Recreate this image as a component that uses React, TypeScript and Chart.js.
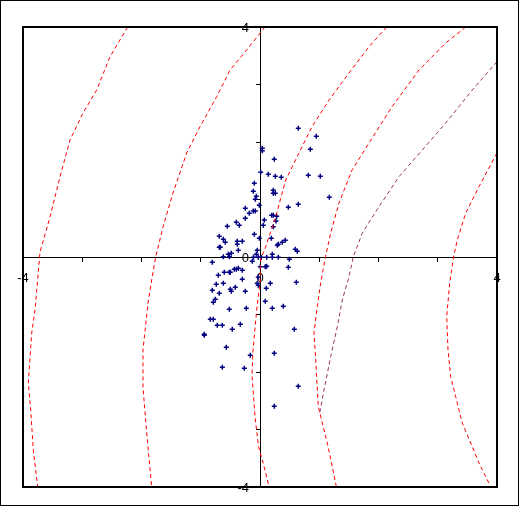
import React, { useEffect, useRef } from "react";
import { Chart, registerables } from "chart.js";

Chart.register(...registerables);

// Scatter sample (x, y)
const sampleX = [
  0.039, 0.039, 0.012, 0.14, -0.096, -0.113, -0.062, -0.079, -0.012, -0.248,
  -0.113, -0.079, -0.181, -0.248, 0.073, 0.646, 0.95, 0.849, 0.241, 0.258,
  0.359, 0.815, 1.018, 0.224, 0.224, 0.258, 1.17, 0.646, 0.478, 0.197,
  0.224, 0.282, -0.4, -0.349, 0.056, -0.552, -0.096, -0.012, -0.687, -0.619,
  -0.586, -0.383, -0.299, -0.383, -0.687, -0.67, -0.366, -0.535, -0.518, -0.046,
  -0.062, -0.029, 0.022, -0.619, -0.13, -0.805, 0.005, 0.089, -0.434, -0.4,
  -0.366, -0.603, -0.518, -0.501, -0.299, -0.704, -0.029, -0.299, -0.046, -0.029,
  -0.619, -0.738, -0.417, -0.501, -0.484, -0.805, 0.106, -0.687, -0.248, -0.754,
  -0.788, 0.089, -0.518, -0.231, 0.27, 0.224, 0.191, 0.427, 0.376, 0.309,
  0.292, 0.596, 0.63, 0.113, 0.208, 0.208, 0.309, 0.495, 0.113, 0.478,
  0.613, 0.174, 0.393, 0.208, -0.839, -0.788, -0.721, -0.636, -0.332, -0.468,
  -0.94, -0.94, -0.569, -0.164, -0.636, -0.265, 0.579, 0.241, 0.646, 0.241,
  -0.484, -0.11,
];
const sampleY = [
  1.89, 1.849, 1.473, 1.438, 1.282, 1.143, 1.056, 1.003, 0.899, 0.847,
  0.8, 0.8, 0.76, 0.673, 0.643, 2.238, 2.099, 1.873, 1.699, 1.403,
  1.386, 1.421, 1.403, 1.16, 1.108, 1.108, 1.038, 0.917, 0.864, 0.725,
  0.725, 0.708, 0.603, 0.551, 0.551, 0.534, 0.395, 0.325, 0.36, 0.308,
  0.256, 0.273, 0.273, 0.221, 0.169, 0.169, 0.117, 0.047, 0.005, 0.117,
  0.047, -0.005, -0.005, 0.005, -0.075, -0.092, -0.169, -0.169, -0.214, -0.214,
  -0.197, -0.266, -0.266, -0.266, -0.231, -0.318, -0.353, -0.388, -0.457, -0.492,
  -0.457, -0.475, -0.527, -0.562, -0.597, -0.579, -0.544, -0.631, -0.597, -0.736,
  -0.788, -0.77, -0.91, -0.892, 0.626, 0.527, 0.325, 0.29, 0.256, 0.221,
  0.203, 0.134, 0.099, -0.005, 0.047, -0.005, -0.005, -0.04, -0.162, -0.179,
  -0.44, -0.457, -0.857, -0.892, -1.083, -1.083, -1.188, -1.188, -1.17, -1.257,
  -1.344, -1.362, -1.57, -1.71, -1.918, -1.936, -1.257, -1.675, -2.249, -2.597,
  0.064, -0.005,
];

// Contour curves
const curveAX = [-2.233, -2.532, -2.756, -2.987, -3.207, -3.376, -3.544, -3.713, -3.797, -3.853, -3.911, -3.87, -3.826, -3.752];
const curveAY = [4.0, 3.483, 2.904, 2.504, 2.035, 1.391, 0.696, 0.087, -0.922, -1.322, -2.191, -2.661, -3.357, -4.0];

const curveBX = [0.084, -0.224, -0.506, -0.731, -1.013, -1.237, -1.468, -1.637, -1.76, -1.828, -1.89, -1.975, -1.975, -1.912, -1.828];
const curveBY = [4.0, 3.6, 3.252, 2.788, 2.266, 1.809, 1.113, 0.522, 0.005, -0.4, -0.8, -1.617, -2.261, -3.061, -4.0];

const curveCX = [2.138, 1.84, 1.502, 1.165, 0.878, 0.658, 0.434, 0.265, 0.096, 0.012, 0.0, -0.056, -0.118, -0.135, -0.084, -0.025, 0.039, 0.096, 0.152];
const curveCY = [4.0, 3.657, 3.2, 2.73, 2.266, 1.809, 1.339, 0.701, 0.179, -0.035, -0.452, -0.922, -1.617, -2.052, -2.777, -3.299, -3.53, -3.757, -3.995];

const curveDX = [3.472, 3.134, 2.684, 2.228, 1.84, 1.553, 1.333, 1.193, 1.105, 1.024, 0.967, 0.911, 0.94, 0.984, 1.052, 1.136, 1.22, 1.288];
const curveDY = [4.0, 3.722, 3.252, 2.614, 1.983, 1.513, 0.939, 0.417, 0.005, -0.452, -0.864, -1.322, -1.791, -2.603, -2.887, -3.235, -3.647, -3.995];

const curveEX = [4.0, 3.583, 3.134, 2.739, 2.346, 2.008, 1.727, 1.575, 1.502, 1.389, 1.305, 1.193, 1.08, 1.008];
const curveEY = [3.397, 2.904, 2.33, 1.861, 1.397, 0.875, 0.417, 0.005, -0.343, -0.748, -1.212, -1.734, -2.313, -2.713];

const curveFX = [4.0, 3.696, 3.472, 3.33, 3.266, 3.202, 3.151, 3.173, 3.219, 3.303, 3.414, 3.556, 3.696, 3.865];
const curveFY = [1.809, 1.223, 0.765, 0.296, 0.0, -0.452, -1.038, -1.617, -2.082, -2.43, -2.887, -3.235, -3.583, -3.936];

const labelledTicks = [-4, 0, 4];

const toPoints = (xs: number[], ys: number[]) => xs.map((x, i) => ({ x, y: ys[i] }));

const LABEL_FONT = "13px 'Liberation Sans', Arial, sans-serif";

const framePlugin = {
  id: "frame",
  afterDraw(chart: any) {
    const { ctx, chartArea, width, height } = chart;
    ctx.save();
    ctx.strokeStyle = "#000";
    ctx.lineWidth = 2;
    ctx.strokeRect(chartArea.left, chartArea.top, chartArea.right - chartArea.left, chartArea.bottom - chartArea.top);
    ctx.lineWidth = 1;
    ctx.strokeRect(0.5, 0.5, width - 1, height - 1);
    // y-axis tick labels, placed with the library's scales, left of the centred axis
    const xs = chart.scales.x;
    const ys = chart.scales.y;
    const axisX = xs.getPixelForValue(0);
    ctx.fillStyle = "#000";
    ctx.font = LABEL_FONT;
    ctx.textAlign = "right";
    ctx.textBaseline = "middle";
    labelledTicks.forEach((v) => {
      ctx.fillText(String(v), axisX - 11, ys.getPixelForValue(v) + 1);
    });
    ctx.restore();
  },
};

export default function App() {
  const ref = useRef<HTMLCanvasElement | null>(null);
  useEffect(() => {
    if (!ref.current) return;
    const curve = (xs: number[], ys: number[], color: string) => ({
      type: "scatter" as const,
      data: toPoints(xs, ys),
      showLine: true,
      borderColor: color,
      backgroundColor: color,
      borderWidth: 1,
      borderDash: [4, 3],
      pointRadius: 0,
      tension: 0,
    });
    const font = { family: "'Liberation Sans', Arial, sans-serif", size: 13 };
    const chart = new Chart(ref.current, {
      type: "scatter",
      data: {
        datasets: [
          curve(curveAX, curveAY, "#ff0000"),
          curve(curveBX, curveBY, "#ff0000"),
          curve(curveCX, curveCY, "#ff0000"),
          curve(curveDX, curveDY, "#ff0000"),
          curve(curveEX, curveEY, "#993366"),
          curve(curveFX, curveFY, "#ff0000"),
          {
            type: "scatter",
            data: toPoints(sampleX, sampleY),
            pointStyle: "cross",
            pointRadius: 2.5,
            borderColor: "#000080",
            backgroundColor: "#000080",
            borderWidth: 1.5,
          },
        ],
      },
      options: {
        responsive: false,
        animation: false,
        layout: { padding: { left: 23, top: 27, right: 22, bottom: 19 } },
        plugins: { legend: { display: false }, tooltip: { enabled: false }, title: { display: false } },
        scales: {
          x: {
            type: "linear",
            min: -4,
            max: 4,
            position: { y: 0 },
            grid: { display: true, drawOnChartArea: false, drawTicks: true, tickLength: 4, color: "#000" },
            border: { display: true, color: "#000", width: 1 },
            ticks: {
              stepSize: 1,
              autoSkip: false,
              maxRotation: 0,
              padding: 10,
              color: "#000",
              font,
              callback: (v: any) => (labelledTicks.includes(Number(v)) ? String(v) : ""),
            },
          },
          y: {
            type: "linear",
            min: -4,
            max: 4,
            position: { x: 0 },
            grid: { display: true, drawOnChartArea: false, drawTicks: true, tickLength: 4, color: "#000" },
            border: { display: true, color: "#000", width: 1 },
            ticks: {
              stepSize: 1,
              autoSkip: false,
              display: false,
            },
          },
        },
      },
      plugins: [framePlugin],
    } as any);
    return () => chart.destroy();
  }, []);
  return (
    <div style={{ position: "fixed", left: 0, top: 0, width: 519, height: 506, background: "#fff" }}>
      <canvas ref={ref} width={519} height={506} style={{ display: "block" }} />
    </div>
  );
}
